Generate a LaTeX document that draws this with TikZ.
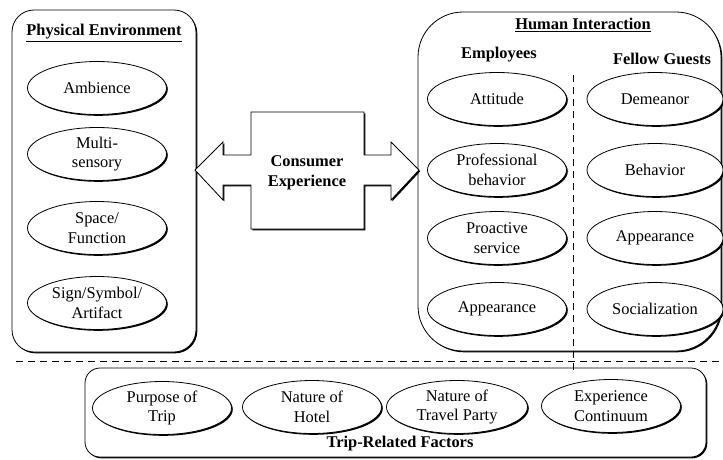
\documentclass[tikz,border=0pt]{standalone}
\usepackage{fontspec}
\setmainfont{Liberation Serif}
\usetikzlibrary{shadows,shapes.geometric}
\newcommand{\figfont}{\fontsize{16.4}{19.5}\selectfont}
\tikzset{
  % dark edge below and to the right of each outline
  dark edge/.style={drop shadow={shadow xshift=1.3pt,shadow yshift=-1.3pt,fill=black,opacity=1}},
  factor/.style={ellipse,draw=black,line width=0.8pt,fill=white,dark edge,
    minimum width=139pt,minimum height=53pt,inner sep=0pt,align=center},
  group box/.style={draw=black,line width=0.8pt,fill=white,dark edge},
  heading/.style={font=\figfont\bfseries,align=center,inner sep=0pt},
  split line/.style={draw=black,line width=0.8pt,dash pattern=on 7pt off 5pt},
}
\begin{document}
\begin{tikzpicture}[x=1pt,y=-1pt,font=\figfont]
\useasboundingbox (0,0) rectangle (723,459);
\coordinate (PA) at (12,10);
\coordinate (PB) at (196,352);
\coordinate (HA) at (418,12);
\coordinate (HB) at (721,351);
\coordinate (TA) at (85,368);
\coordinate (TB) at (706,457);
\path [group box,rounded corners=22pt] (PA) rectangle (PB);
\path [group box,rounded corners=45pt] (HA) rectangle (HB);
\path [group box,rounded corners=15pt] (TA) rectangle (TB);
\node[heading] (phys) at (104,33) {\underline{Physical Environment}};
\node[heading] (human) at (583,25) {\underline{Human Interaction}};
\node[heading] (empl) at (499,55) {Employees};
\node[heading] (guests) at (662,59) {Fellow Guests};
\node[heading] (trip) at (400,444) {Trip-Related Factors};
% physical environment
\node[factor] (ambience) at (97,88) {Ambience};
\node[factor] (multi) at (97,154) {Multi-\\sensory};
\node[factor] (space) at (97,228) {Space/\\Function};
\node[factor] (sign) at (97,303) {Sign/Symbol/\\Artifact};
% employees
\node[factor] (attitude) at (497,99) {Attitude};
\node[factor] (prof) at (497,170) {Professional\\behavior};
\node[factor] (proactive) at (497,238) {Proactive\\service};
\node[factor] (emplook) at (497,309) {Appearance};
% fellow guests
\node[factor,minimum width=136pt] (demeanor) at (655,99) {Demeanor};
\node[factor,minimum width=136pt] (behavior) at (655,170) {Behavior};
\node[factor,minimum width=136pt] (guestlook) at (655,238) {Appearance};
\node[factor,minimum width=136pt] (social) at (655,309) {Socialization};
% trip related
\node[factor] (purpose) at (162,408) {Purpose of\\Trip};
\node[factor] (hotel) at (312,407) {Nature of\\Hotel};
\node[factor,minimum width=141pt] (party) at (457,407) {Nature of\\Travel Party};
\node[factor] (continuum) at (611,406) {Experience\\Continuum};
% dashed separators
\coordinate (VA) at (573,75);
\coordinate (VB) at (573,374);
\coordinate (LA) at (16,361);
\coordinate (LB) at (723,361);
\draw [split line] (VA)--(VB);
\draw [split line] (LA)--(LB);
% consumer experience arrow
\path [group box,line join=miter]
  (195,170) -- (223,142) -- (223,155) -- (251,155) -- (251,112) -- (364,112)
  -- (364,155) -- (391,155) -- (391,142) -- (419,170) -- (391,200) -- (391,185)
  -- (364,185) -- (364,229) -- (251,229) -- (251,185) -- (223,185) -- (223,200) -- cycle;
\node[heading,text depth=0pt] (consumer) at (307,171) {Consumer\\Experience};
\end{tikzpicture}
\end{document}
